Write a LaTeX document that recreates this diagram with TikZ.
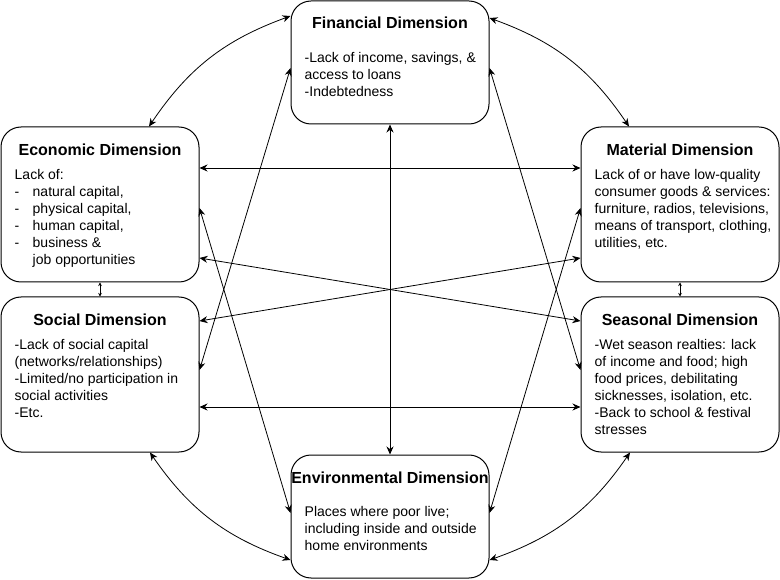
\documentclass[tikz,border=0pt]{standalone}
\usepackage{fontspec}
\setmainfont{Liberation Sans}
\usetikzlibrary{arrows.meta}

\tikzstyle{dimbox}=[draw,line width=1pt,rounded corners=20pt,minimum width=198pt,inner sep=0pt]
\tikzstyle{dimtitle}=[font=\fontsize{16}{19}\selectfont\bfseries]
\tikzstyle{dimtext}=[anchor=north west,align=left,inner sep=0pt,font=\fontsize{14}{16.9}\selectfont]
\tikzstyle{arrowdecorate}=[{Stealth[length=8pt,width=7pt]}-{Stealth[length=8pt,width=7pt]},line width=0.8pt]
\tikzstyle{shortarrow}=[{Stealth[length=3.5pt,width=3.5pt]}-{Stealth[length=3.5pt,width=3.5pt]},line width=0.8pt]

\begin{document}
\begin{tikzpicture}[x=1pt,y=-1pt]
      \useasboundingbox (0,0) rectangle (780,580);
      % nodes
      \foreach \nodename/\x/\y/\h/\dimname/\shift in {
        fin/390/62.5/123/Financial/22,
        eco/100/204.5/155/Economic/23.5,
        soc/100/374.5/155/Social/23.5,
        mat/680/204.5/155/Material/23.5,
        sea/680/374.5/155/Seasonal/23.5,
        env/390/516.5/123/Environmental/23.5}
      {
        \node[dimbox, minimum height=\h pt] (\nodename) at (\x,\y) {};
        \node[dimtitle] (\nodename-title) at ([yshift=-\shift pt]\nodename.north) {\dimname\ Dimension};
      };
      \node[dimtext] (fin-text) at ([xshift=14pt,yshift=-52pt]fin.north west)
        {-Lack of income, savings, \&\\access to loans\\-Indebtedness};
      \node[dimtext] (eco-text) at ([xshift=14pt,yshift=-43pt]eco.north west)
        {Lack of:\\\makebox[18pt][l]{-}natural capital,\\\makebox[18pt][l]{-}physical capital,\\
         \makebox[18pt][l]{-}human capital,\\\makebox[18pt][l]{-}business \&\\\makebox[18pt]{}job opportunities};
      \node[dimtext] (mat-text) at ([xshift=14pt,yshift=-43pt]mat.north west)
        {Lack of or have low-quality\\consumer goods \& services:\\furniture, radios, televisions,\\
         means of transport, clothing,\\utilities, etc.};
      \node[dimtext] (soc-text) at ([xshift=14pt,yshift=-43pt]soc.north west)
        {-Lack of social capital\\(networks/relationships)\\-Limited/no participation in\\
         social activities\\-Etc.};
      \node[dimtext] (sea-text) at ([xshift=14pt,yshift=-43pt]sea.north west)
        {-Wet season realties: lack\\of income and food; high\\food prices, debilitating\\
         sicknesses, isolation, etc.\\-Back to school \& festival\\stresses};
      \node[dimtext] (env-text) at ([xshift=14pt,yshift=-52pt]env.north west)
        {Places where poor live;\\including inside and outside\\home environments};

      %edges
      \draw[arrowdecorate] ([yshift=46.5pt]fin.west) to[bend right=18] ([xshift=49pt]eco.north);
      \draw[arrowdecorate] ([yshift=44.5pt]fin.east) to[bend left=18] ([xshift=-51pt]mat.north);
      \draw[arrowdecorate] ([xshift=50pt]soc.south) to[bend right=18] ([yshift=-43.5pt]env.west);
      \draw[arrowdecorate] ([xshift=-50pt]sea.south) to[bend left=18] ([yshift=-43.5pt]env.east);
      \draw[arrowdecorate] (fin) -- (env);
      \draw[shortarrow] (eco) -- (soc);
      \draw[shortarrow] (mat) -- (sea);
      \foreach \startnode/\startanchor/\startshift/\endnode/\endanchor/\endshift in {
        eco/east/36.5/mat/west/36.5, soc/east/-32.5/sea/west/-32.5,
        fin/west/-5.5/soc/east/4.5, fin/east/-5.5/sea/west/4.5,
        eco/east/-3.5/env/west/3.5, mat/west/-3.5/env/east/3.5,
        eco/east/-53.5/sea/west/53.5, mat/west/-53.5/soc/east/53.5}
      {
        \draw[arrowdecorate] ([yshift=\startshift pt]\startnode.\startanchor) -- ([yshift=\endshift pt]\endnode.\endanchor);
      };
\end{tikzpicture}
\end{document}
